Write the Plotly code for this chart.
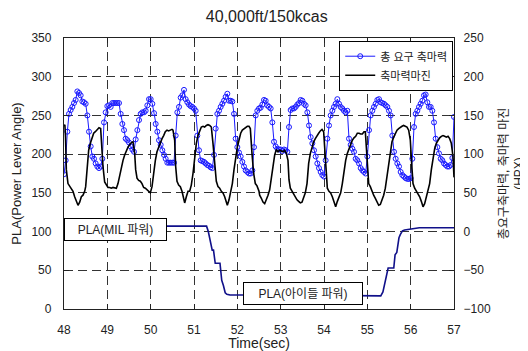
import plotly.graph_objects as go

# ---------------- data ----------------
title_text = "40,000ft/150kcas"
x_ticks = [48, 49, 50, 51, 52, 53, 54, 55, 56, 57]
left_ticks = [0, 50, 100, 150, 200, 250, 300, 350]
right_ticks = [-100, -50, 0, 50, 100, 150, 200, 250]

# total required shaft power (HP), sampled every 1/26 s starting at 48.0 s
blue_start = 48.0
blue_step = 1 / 26
blue_hp = [
    74, 92, 129, 152, 157, 161, 166, 170, 181, 179, 176, 168, 167, 165, 150, 129, 110, 97, 94, 88,
    84, 82, 84, 94, 141, 154, 162, 163, 161, 166, 166, 166, 166, 166, 152, 139, 131, 120, 118, 115,
    110, 106, 103, 119, 131, 144, 152, 154, 154, 156, 163, 171, 171, 165, 153, 139, 129, 118, 112, 105,
    99, 94, 89, 89, 89, 89, 89, 124, 154, 161, 173, 176, 183, 171, 167, 164, 162, 161, 159, 156,
    124, 105, 92, 91, 90, 88, 86, 85, 83, 82, 99, 133, 152, 156, 161, 165, 169, 174, 178, 169,
    169, 168, 152, 120, 109, 102, 97, 90, 84, 79, 77, 75, 75, 79, 109, 150, 156, 159,
    160, 164, 170, 169, 163, 161, 159, 141, 116, 110, 107, 106, 106, 104, 106, 105, 103, 135, 157, 159,
    159, 161, 164, 166, 170, 169, 165, 163, 154, 137, 122, 114, 105, 97, 88, 82, 77, 73, 71, 92,
    120, 137, 150, 156, 161, 165, 171, 165, 161, 159, 156, 154, 156, 120, 112, 107, 103, 94, 92, 88,
    82, 79, 77, 75, 97, 131, 150, 156, 161, 165, 170, 171, 167, 166, 165, 163, 161, 156, 150, 124,
    103, 94, 88, 84, 77, 73, 71, 69, 68, 68, 69, 94, 135, 152, 156, 161, 165, 169, 176, 177,
    167, 161, 161, 156, 141, 120, 109, 101, 94, 92, 88, 86, 84, 84, 86, 95, 148,
]
blue_time = [round(blue_start + i * blue_step, 4) for i in range(len(blue_hp))]

# shaft power margin (HP)
black_time = [
    48.0, 48.02, 48.035, 48.054, 48.092, 48.131, 48.169, 48.208, 48.246, 48.285, 48.323, 48.362, 48.4,
    48.438, 48.477, 48.5, 48.531, 48.569, 48.608, 48.646, 48.685, 48.723, 48.762, 48.808, 48.846,
    48.869, 48.9, 48.938, 48.977, 49.015, 49.054, 49.092, 49.131, 49.169, 49.208, 49.246, 49.285,
    49.323, 49.362, 49.4, 49.438, 49.477, 49.515, 49.554, 49.592, 49.631, 49.654, 49.685, 49.723,
    49.762, 49.8, 49.838, 49.877, 49.915, 49.954, 49.992, 50.031, 50.069, 50.108, 50.146, 50.185,
    50.223, 50.262, 50.3, 50.338, 50.377, 50.415, 50.454, 50.492, 50.515, 50.554, 50.577, 50.608,
    50.646, 50.685, 50.723, 50.762, 50.785, 50.823, 50.862, 50.9, 50.938, 50.977, 51.015, 51.054,
    51.092, 51.131, 51.169, 51.208, 51.246, 51.285, 51.323, 51.362, 51.4, 51.438, 51.477, 51.515,
    51.554, 51.592, 51.631, 51.669, 51.708, 51.746, 51.769, 51.808, 51.846, 51.885, 51.923, 51.962,
    52.0, 52.038, 52.077, 52.115, 52.154, 52.192, 52.231, 52.269, 52.3, 52.338, 52.377, 52.415,
    52.454, 52.5, 52.515, 52.554, 52.592, 52.631, 52.669, 52.708, 52.746, 52.785, 52.823, 52.862,
    52.9, 52.938, 52.977, 53.015, 53.054, 53.092, 53.131, 53.169, 53.192, 53.223, 53.262, 53.3,
    53.338, 53.377, 53.415, 53.454, 53.492, 53.531, 53.569, 53.608, 53.646, 53.685, 53.723, 53.762,
    53.8, 53.838, 53.877, 53.915, 53.954, 53.992, 54.023, 54.046, 54.077, 54.115, 54.154, 54.192,
    54.231, 54.269, 54.308, 54.346, 54.385, 54.423, 54.462, 54.5, 54.538, 54.577, 54.615, 54.654,
    54.692, 54.731, 54.769, 54.808, 54.846, 54.885, 54.923, 54.954, 54.977, 55.0, 55.031, 55.069,
    55.108, 55.146, 55.185, 55.223, 55.262, 55.3, 55.338, 55.377, 55.415, 55.454, 55.492, 55.531,
    55.569, 55.608, 55.646, 55.685, 55.723, 55.762, 55.8, 55.838, 55.877, 55.915, 55.954, 55.992,
    56.023, 56.054, 56.092, 56.131, 56.169, 56.208, 56.246, 56.285, 56.323, 56.362, 56.4, 56.438,
    56.477, 56.515, 56.554, 56.592, 56.631, 56.669, 56.708, 56.746, 56.785, 56.823, 56.862, 56.9,
    56.938, 56.977, 57.0,
]
black_hp = [
    136, 138, 122, 80, 62, 59, 56, 52, 45, 39, 34, 38, 45,
    47, 52, 58, 84, 105, 114, 122, 127, 129, 131, 134, 133,
    109, 84, 64, 60, 57, 57, 56, 57, 56, 56, 62, 73,
    84, 92, 99, 105, 109, 112, 115, 116, 101, 80, 69, 66,
    65, 62, 57, 56, 54, 52, 50, 58, 77, 92, 103, 109,
    116, 120, 124, 129, 131, 130, 131, 132, 131, 118, 84, 65,
    60, 58, 52, 41, 37, 45, 52, 52, 60, 75, 97, 114,
    124, 131, 135, 136, 135, 137, 138, 137, 135, 114, 88, 65,
    58, 56, 52, 50, 45, 39, 34, 41, 52, 62, 80, 97,
    109, 118, 127, 131, 133, 135, 136, 136, 133, 101, 75, 62,
    59, 52, 47, 43, 38, 36, 41, 47, 54, 67, 84, 99,
    106, 103, 105, 104, 103, 105, 101, 92, 67, 56, 52, 47,
    45, 41, 39, 37, 38, 45, 50, 62, 88, 101, 109, 116,
    120, 124, 127, 130, 132, 129, 97, 71, 56, 52, 50, 45,
    39, 32, 39, 45, 50, 62, 80, 92, 101, 107, 114, 118,
    121, 123, 127, 127, 126, 126, 129, 129, 109, 80, 62, 58,
    52, 47, 43, 38, 34, 35, 41, 47, 56, 71, 88, 105,
    116, 122, 127, 131, 133, 135, 136, 137, 136, 135, 131, 118,
    88, 62, 56, 52, 50, 45, 39, 32, 36, 45, 52, 62,
    80, 97, 107, 114, 118, 121, 123, 124, 123, 122, 123, 120,
    114, 97, 70,
]

# power lever angle (deg)
pla_time = [48.0, 51.29, 51.33, 51.36, 51.40, 51.42, 51.45, 51.47, 51.49, 51.60, 51.62, 51.64,
            51.68, 51.72, 51.76, 51.83, 53.0, 55.31, 55.36, 55.38, 55.40, 55.46, 55.48, 55.61,
            55.64, 55.68, 55.70, 55.73, 55.76, 55.81, 55.86, 56.0, 56.2, 57.0]
pla_deg = [107, 107, 100, 92, 86, 76, 76, 66, 59, 59, 48, 37,
           30, 21, 19, 18, 18, 17, 22, 27, 35, 50, 53, 53,
           70, 73, 82, 92, 96, 101, 102, 103.5, 105, 105]

series_names = ["총 요구 축마력", "축마력마진"]
note_mil = ("PLA(MIL 파워)", 49.18, 102.7)
note_idle = ("PLA(아이들 파워)", 53.51, 20.4)

# ---------------- figure ----------------
# (the page body adds an 8px offset, so the figure is 8px smaller than the window)
FONT = "Liberation Sans, Noto Sans CJK KR, sans-serif"
fig = go.Figure()

fig.add_trace(go.Scatter(
    x=pla_time, y=pla_deg, mode="lines", yaxis="y",
    line=dict(color="#10108a", width=1.6), showlegend=False, hoverinfo="skip"))

fig.add_trace(go.Scatter(
    x=blue_time, y=blue_hp, mode="lines+markers", yaxis="y2", name=series_names[0],
    line=dict(color="#1a1aff", width=1),
    marker=dict(symbol="circle-open", size=5, color="#1a1aff", line=dict(width=1))))

fig.add_trace(go.Scatter(
    x=black_time, y=black_hp, mode="lines", yaxis="y2", name=series_names[1],
    line=dict(color="black", width=1.6)))

for txt, xv, yv, w in [(note_mil[0], note_mil[1], note_mil[2], 97),
                        (note_idle[0], note_idle[1], note_idle[2], 114)]:
    fig.add_annotation(x=xv, y=yv, xref="x", yref="y", text=txt, showarrow=False,
                       bgcolor="white", bordercolor="black", borderwidth=1, borderpad=2,
                       width=w, height=17, font=dict(size=12, color="#222", family=FONT))

axis_common = dict(showline=True, linecolor="#222", linewidth=1.3, ticks="inside",
                   ticklen=5, tickcolor="#222", tickfont=dict(size=12, color="#222"),
                   zeroline=False, automargin=False)
grid = dict(showgrid=True, gridcolor="#333", gridwidth=1, griddash="9px,5px")

fig.update_layout(
    width=520, height=343,
    margin=dict(l=56, r=74, t=30, b=42, autoexpand=False),
    paper_bgcolor="white", plot_bgcolor="white",
    font=dict(family=FONT, size=12, color="#222"),
    title=dict(text=title_text, x=0.52, xref="paper", xanchor="center",
               y=0.975, yanchor="middle", font=dict(size=16, color="#222")),
    xaxis=dict(range=[48, 57], tickvals=x_ticks, mirror="ticks",
               title=dict(text="Time(sec)", standoff=0, font=dict(size=14)),
               ticklabelstandoff=9, **axis_common, **grid),
    yaxis=dict(range=[0, 350], tickvals=left_ticks, mirror=True,
               title=dict(text="PLA(Power Lever Angle)", standoff=6, font=dict(size=13)),
               ticklabelstandoff=9, **axis_common, **grid),
    yaxis2=dict(range=[-100, 250], tickvals=right_ticks, overlaying="y", side="right",
                title=dict(text="총요구축마력, 축마력 마진<br>(HPX)", standoff=9, font=dict(size=12)),
                ticklabelstandoff=6, showgrid=False, **axis_common),
    legend=dict(x=0.998, y=0.99, xanchor="right", yanchor="top", bgcolor="white",
                bordercolor="black", borderwidth=1, font=dict(size=11, color="#222"),
                tracegroupgap=0, itemwidth=30),
)

fig.write_html("out.html")
